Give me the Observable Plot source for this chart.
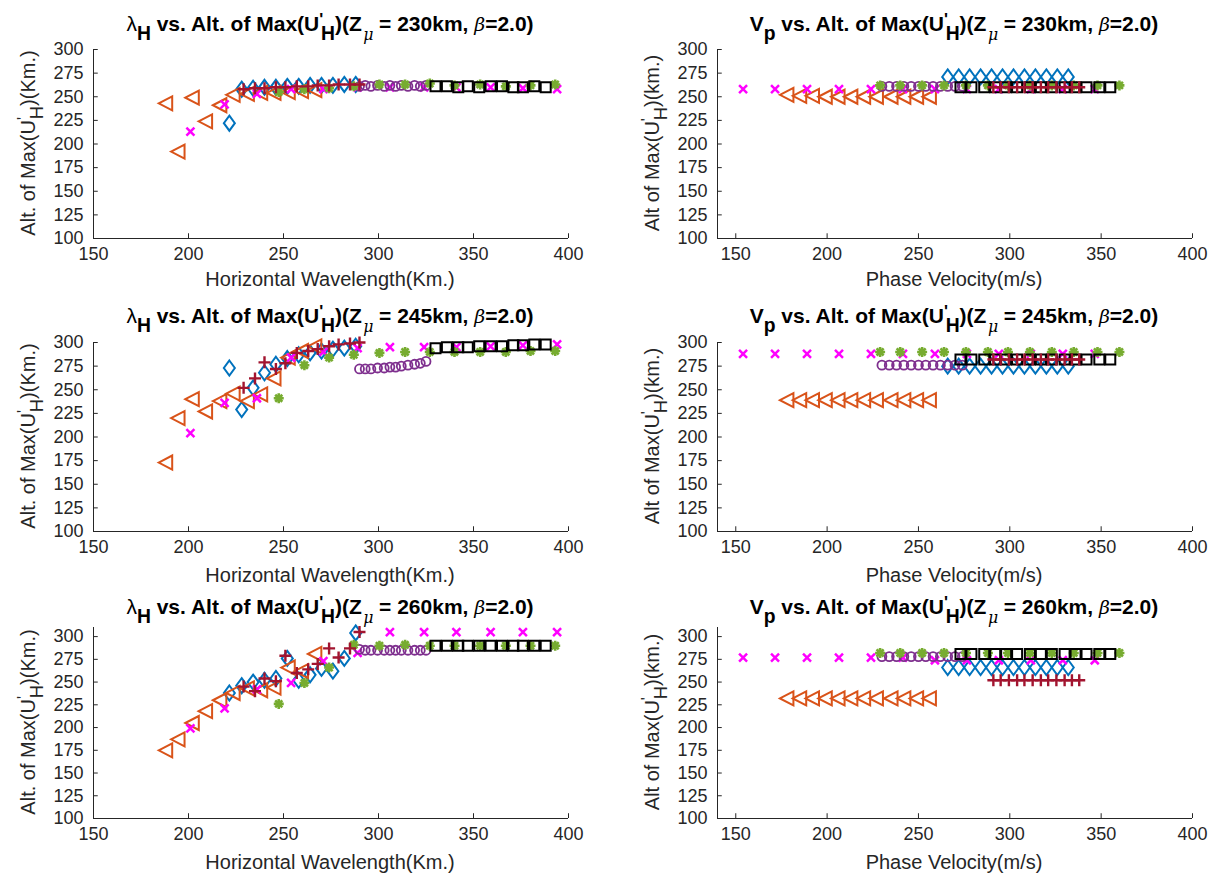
<!DOCTYPE html>
<html><head><meta charset="utf-8">
<script src="https://cdn.jsdelivr.net/npm/d3@7"></script>
<script src="https://cdn.jsdelivr.net/npm/@observablehq/plot@0.6"></script>
<style>
body{margin:0;background:#fff;}
#root{position:relative;width:1216px;height:886px;overflow:hidden;font-family:"Liberation Sans",Arial,sans-serif;background:#fff;}
.pl{position:absolute;}
.title{position:absolute;font-weight:bold;font-size:21px;color:#000;white-space:nowrap;transform:translate(-50%,-50%);line-height:1;z-index:5;}
.xlab{position:absolute;font-size:20px;color:#262626;white-space:nowrap;transform:translate(-50%,-50%);line-height:1;z-index:5;}
.ylab{position:absolute;font-size:20px;color:#262626;white-space:nowrap;transform:translate(-50%,-50%) rotate(-90deg);line-height:1;z-index:5;}
.sb{position:relative;top:0.45em;font-size:0.92em;}
.sp{position:relative;top:-0.35em;font-size:0.8em;}
.sbh{margin-left:-0.12em;}
.gl{font-weight:normal;}
.gm{position:relative;top:0.6em;font-family:"DejaVu Serif",serif;font-style:italic;font-weight:normal;font-size:0.75em;margin-left:0.1em;margin-right:0.35em;}
.gi{font-family:"DejaVu Serif",serif;font-style:italic;font-weight:normal;font-size:0.9em;}
</style></head>
<body><div id="root"></div>
<script>
// ---------- tick labels ----------
const xTickVals = [150, 200, 250, 300, 350, 400];
const yTickVals = [100, 125, 150, 175, 200, 225, 250, 275, 300];
const zmuVals = [230, 245, 260];

// ---------- left column: horizontal wavelength (km) ----------
const lamBlue    = [221.5, 228, 234, 240, 246, 252, 258, 264, 270, 276, 282, 288];
const lamOrange  = [188, 194.5, 202, 209, 216.5, 223.5, 231, 238, 245, 252.5, 259.5, 266.5];
const lamMagenta = [201, 219, 236, 254, 271, 289, 306, 324, 341, 359, 376, 394];
const lamPurple  = [290, 293, 296, 299.5, 303, 306, 309, 312, 315.5, 319, 322, 325];
const lamGreen   = [247.5, 261, 274, 287, 300.5, 314, 327, 340, 353.5, 367, 380, 393];
const lamRed     = [229, 235, 240, 246, 251, 257, 263, 268, 274, 279, 285, 290];
const lamBlack   = [330, 336, 342, 347, 353, 359, 365, 371, 376, 382, 388];

// Z_mu = 230 km
const altBlue230    = [222, 258, 259, 260, 260, 261, 261, 262, 262, 262, 263, 263];
const altOrange230  = [243, 192, 249, 224, 241, 252, 253, 254, 254, 255, 256, 257];
const altMagenta230 = [213, 242, 253, 258, 258, 260, 260, 260, 260, 260, 259, 258];
const altPurple230  = [261, 262, 261, 262, 261, 262, 261, 262, 261, 262, 261, 262];
const altGreen230   = [255, 258, 259, 261, 263, 263, 264, 262, 263, 261, 262, 263];
const altRed230     = [258, 259, 259, 260, 260, 261, 261, 262, 262, 263, 263, 263];
const altBlack230   = [261, 261, 260, 261, 260, 261, 261, 260, 260, 261, 260];
// Z_mu = 245 km
const altBlue245    = [273, 229, 252, 268, 277, 283, 287, 289, 291, 293, 294, 296];
const altOrange245  = [173, 220, 240, 227, 238, 246, 238, 245, 262, 284, 291, 296];
const altMagenta245 = [204, 236, 241, 284, 290, 294, 295, 295, 295, 296, 297, 298];
const altPurple245  = [272, 272, 272, 273, 273, 274, 274, 275, 276, 277, 278, 280];
const altGreen245   = [241, 276, 284, 287, 289, 290, 290, 290, 290, 290, 291, 291];
const altRed245     = [252, 262, 279, 272, 278, 289, 291, 293, 296, 298, 299, 300];
const altBlack245   = [294, 295, 295, 295, 296, 296, 296, 297, 297, 298, 298];
// Z_mu = 260 km
const altBlue260    = [238, 246, 250, 252, 254, 276, 252, 258, 265, 262, 276, 304];
const altOrange260  = [175, 187, 205, 218, 230, 238, 243, 241, 244, 266, 262, 281];
const altMagenta260 = [199, 221, 242, 249, 273, 282, 305, 305, 305, 305, 305, 305];
const altPurple260  = [286, 285, 285, 285, 285, 285, 285, 285, 285, 285, 285, 285];
const altGreen260   = [226, 249, 266, 291, 290, 291, 290, 290, 290, 290, 290, 290];
const altRed260     = [245, 240, 254, 251, 279, 260, 264, 270, 287, 277, 287, 305];
const altBlack260   = [290, 290, 290, 290, 290, 290, 290, 290, 290, 290, 290];

// ---------- right column: phase velocity (m/s) ----------
const vpBlue    = [266, 272, 278, 284, 290, 296, 302, 308, 314, 320, 326, 332];
const vpOrange  = [178, 185, 192, 199, 206, 213, 220, 227, 235, 242, 249, 256];
const vpMagenta = [154, 171.5, 189, 206.5, 224, 241.5, 259, 276.5, 294, 311.5, 329, 346.5];
const vpPurple  = [230, 234, 238, 242, 246, 250, 254, 258, 262, 266, 270, 274];
const vpGreen   = [229, 240, 252, 264, 276, 288, 299, 311, 323, 335, 348, 360];
const vpRed     = [291, 295, 299.5, 304, 308, 312.5, 317, 321, 325.5, 330, 334, 338];
const vpBlack   = [273, 279, 286, 292, 298, 304, 311, 317, 323, 330, 336, 342, 349, 355];

const vAltBlue230    = [271, 271, 271, 271, 271, 271, 271, 271, 271, 271, 271, 271];
const vAltOrange230  = [252, 251, 251, 250, 250, 250, 250, 250, 250, 250, 250, 250];
const vAltMagenta230 = [258, 258, 258, 258, 258, 258, 258, 258, 258, 258, 258, 258];
const vAltPurple230  = [261, 261, 261, 261, 261, 261, 261, 261, 261, 261, 261, 261];
const vAltGreen230   = [262, 262, 262, 262, 262, 262, 262, 262, 262, 262, 262, 262];
const vAltRed230     = [260, 260, 260, 260, 260, 260, 260, 260, 260, 260, 260, 260];
const vAltBlack230   = [260, 260, 260, 260, 260, 260, 260, 260, 260, 260, 260, 260, 260, 260];

const vAltBlue245    = [275, 275, 275, 275, 275, 275, 275, 275, 275, 275, 275, 275];
const vAltOrange245  = [239, 239, 239, 239, 239, 239, 239, 239, 239, 239, 239, 239];
const vAltMagenta245 = [288, 288, 288, 288, 288, 288, 288, 288, 288, 288, 288, 288];
const vAltPurple245  = [276, 276, 276, 276, 276, 276, 276, 276, 276, 276, 276, 276];
const vAltGreen245   = [290, 290, 290, 290, 290, 290, 290, 290, 290, 290, 290, 290];
const vAltRed245     = [282, 282, 282, 282, 282, 282, 282, 282, 282, 282, 282, 282];
const vAltBlack245   = [282, 282, 282, 282, 282, 282, 282, 282, 282, 282, 282, 282, 282, 282];

const vAltBlue260    = [266, 266, 266, 266, 266, 266, 266, 266, 266, 266, 266, 266];
const vAltOrange260  = [232, 232, 232, 232, 232, 232, 232, 232, 232, 232, 232, 232];
const vAltMagenta260 = [277, 277, 277, 277, 277, 277, 274, 274, 274, 274, 274, 274];
const vAltPurple260  = [278, 278, 278, 278, 278, 278, 278, 278, 278, 278, 278, 278];
const vAltGreen260   = [282, 282, 282, 282, 282, 282, 282, 282, 282, 282, 282, 282];
const vAltRed260     = [252, 252, 252, 252, 252, 252, 252, 252, 252, 252, 252, 252];
const vAltBlack260   = [281, 281, 281, 281, 281, 281, 281, 281, 281, 281, 281, 281, 281, 281];

// ---------- styling ----------
const C = {blue:"#0072BD", orange:"#D95319", magenta:"#FF00FF", purple:"#7E2F8E", green:"#77AC30", red:"#A2142F", black:"#000000"};
const SYM = {
  diamond: {draw(c){c.moveTo(0,-7.5);c.lineTo(5.5,0);c.lineTo(0,7.5);c.lineTo(-5.5,0);c.closePath();}},
  triLeft: {draw(c){c.moveTo(-7,0);c.lineTo(6.5,-7);c.lineTo(6.5,7);c.closePath();}},
  cross:   {draw(c){c.moveTo(-4,-4);c.lineTo(4,4);c.moveTo(-4,4);c.lineTo(4,-4);}},
  circle:  {draw(c){c.moveTo(4.5,0);c.arc(0,0,4.5,0,2*Math.PI);c.closePath();}},
  aster:   {draw(c){for(const a of [0,45,90,135]){const t=a*Math.PI/180,dx=5*Math.cos(t),dy=5*Math.sin(t);c.moveTo(-dx,-dy);c.lineTo(dx,dy);}}},
  plus:    {draw(c){c.moveTo(-6,0);c.lineTo(6,0);c.moveTo(0,-6);c.lineTo(0,6);}},
  square:  {draw(c){c.moveTo(-5,-5);c.lineTo(5,-5);c.lineTo(5,5);c.lineTo(-5,5);c.closePath();}}
};
const SW = {diamond:2, triLeft:2, cross:2.5, circle:1.8, aster:2.6, plus:2.4, square:2};

function layer(xs, ys, sym, color){
  const data = xs.map((v,i)=>({x:v, y:ys[i]}));
  return Plot.dot(data, {x:"x", y:"y", symbol:SYM[sym], stroke:color, fill:"none", strokeWidth:SW[sym], r:5});
}

function panel(p){
  const [x0,x1] = p.xDomain, [y0,y1] = p.yDomain;
  const marks = [
    Plot.ruleX([x0], {y1:y0, y2:y1, stroke:"#262626", strokeWidth:1}),
    Plot.ruleY([y0], {x1:x0, x2:x1, stroke:"#262626", strokeWidth:1}),
    Plot.ruleY(yTickVals, {x1:x0, x2:x0+(x1-x0)*0.01, stroke:"#262626"}),
    Plot.ruleX(xTickVals.filter(v=>v>=x0), {y1:y0, y2:y0+(y1-y0)*0.025, stroke:"#262626"}),
    ...p.layers.map(l=>layer(...l))
  ];
  const svg = Plot.plot({
    width:p.width, height:p.height,
    marginTop:p.m[0], marginRight:p.m[1], marginBottom:p.m[2], marginLeft:p.m[3],
    x:{domain:p.xDomain, ticks:xTickVals, tickSize:0, tickPadding:9, label:null},
    y:{domain:p.yDomain, ticks:yTickVals, tickSize:0, tickPadding:10, label:null},
    style:{fontSize:"18px", fontFamily:"'Liberation Sans', Arial, sans-serif", color:"#262626", background:"transparent", overflow:"visible"},
    marks
  });
  const d = document.createElement("div");
  d.className = "pl";
  d.style.left = p.left + "px"; d.style.top = p.top + "px";
  d.appendChild(svg);
  root.appendChild(d);
}

const root = document.getElementById("root");
const rows = [
  {top:0,   height:290, m:[49,0,52,0], yDomain:[100,300], tY:24,  xlY:279, ylY:143},
  {top:293, height:290, m:[49,0,52,0], yDomain:[100,300], tY:316, xlY:575, ylY:436},
  {top:586, height:300, m:[41,0,68,0], yDomain:[100,310], tY:607, xlY:862, ylY:722}
];
const leftAlt = [
  [altBlue230, altOrange230, altMagenta230, altPurple230, altGreen230, altBlack230, altRed230],
  [altBlue245, altOrange245, altMagenta245, altPurple245, altGreen245, altBlack245, altRed245],
  [altBlue260, altOrange260, altMagenta260, altPurple260, altGreen260, altBlack260, altRed260]
];
const rightAlt = [
  [vAltBlue230, vAltOrange230, vAltMagenta230, vAltPurple230, vAltGreen230, vAltBlack230, vAltRed230],
  [vAltBlue245, vAltOrange245, vAltMagenta245, vAltPurple245, vAltGreen245, vAltBlack245, vAltRed245],
  [vAltBlue260, vAltOrange260, vAltMagenta260, vAltPurple260, vAltGreen260, vAltBlack260, vAltRed260]
];
const order = [["diamond",C.blue],["triLeft",C.orange],["cross",C.magenta],["circle",C.purple],["aster",C.green],["square",C.black],["plus",C.red]];
const lamX = [lamBlue, lamOrange, lamMagenta, lamPurple, lamGreen, lamBlack, lamRed];
const vpX  = [vpBlue, vpOrange, vpMagenta, vpPurple, vpGreen, vpBlack, vpRed];

function addText(cls, x, y, html){
  const d = document.createElement("div");
  d.className = cls; d.style.left = x+"px"; d.style.top = y+"px"; d.innerHTML = html;
  root.appendChild(d);
}
function titleHTML(lead, sub, z){
  return `${lead}<span class="sb">${sub}</span> vs. Alt. of Max(U<span class="sp">'</span><span class="sb sbh">H</span>)(Z<span class="gm">μ</span>= ${z}km, <span class="gi">β</span>=2.0)`;
}

rows.forEach((r,i)=>{
  panel({left:0, top:r.top, width:600, height:r.height, m:[r.m[0],32,r.m[2],93], xDomain:[150,400], yDomain:r.yDomain,
    layers: order.map((o,k)=>[lamX[k], leftAlt[i][k], o[0], o[1]])});
  panel({left:608, top:r.top, width:608, height:r.height, m:[r.m[0],24,r.m[2],109], xDomain:[140,400], yDomain:r.yDomain,
    layers: order.map((o,k)=>[vpX[k], rightAlt[i][k], o[0], o[1]])});
  addText("title", 330, r.tY, titleHTML('<span class="gl">λ</span>', "H", zmuVals[i]));
  addText("title", 954, r.tY, titleHTML('V', "p", zmuVals[i]));
  addText("xlab", 330, r.xlY, "Horizontal Wavelength(Km.)");
  addText("xlab", 954, r.xlY, "Phase Velocity(m/s)");
  addText("ylab", 28, r.ylY, `Alt. of Max(U<span class="sp">'</span><span class="sb sbh">H</span>)(Km.)`);
  addText("ylab", 652, r.ylY, `Alt of Max(U<span class="sp">'</span><span class="sb sbh">H</span>)(km.)`);
});
</script>
</body></html>
